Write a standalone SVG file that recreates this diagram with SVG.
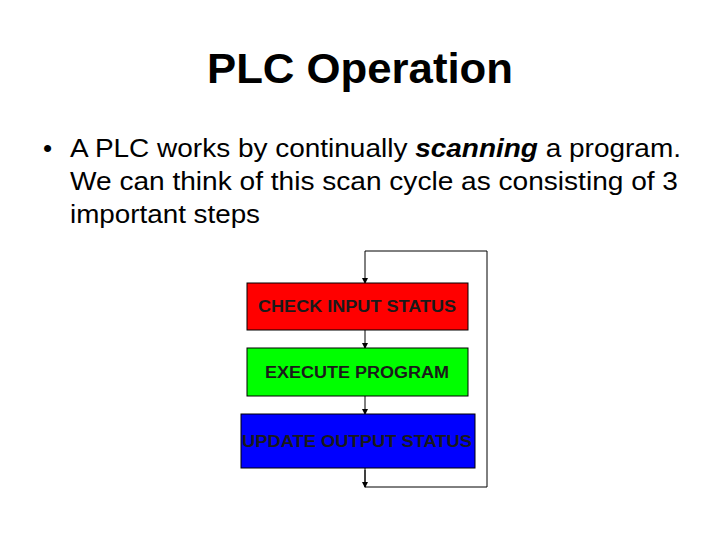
<svg xmlns="http://www.w3.org/2000/svg" width="720" height="540" viewBox="0 0 720 540">
<style>
text{font-family:"Liberation Sans",Arial,sans-serif;fill:#000}
.b{stroke:#000;stroke-width:1}
.l{fill:none;stroke:#000;stroke-width:1}
.n{font-size:16px;font-weight:bold;text-anchor:middle;fill:#1a1a1a}
.t{font-size:26px}
</style>
<defs><marker id="a" markerWidth="6" markerHeight="6" refX="5" refY="3" orient="auto" markerUnits="userSpaceOnUse"><path d="M0,0 L6,3 L0,6 z" fill="#000"/></marker></defs>
<rect width="720" height="540" fill="#fff"/>
<text x="360" y="83" font-size="42" font-weight="bold" text-anchor="middle" textLength="306" lengthAdjust="spacingAndGlyphs">PLC Operation</text>
<text x="43" y="157" class="t">•</text>
<text x="70" y="157" class="t" textLength="611" lengthAdjust="spacingAndGlyphs">A PLC works by continually <tspan font-weight="bold" font-style="italic">scanning</tspan> a program.</text>
<text x="70" y="190" class="t" textLength="608" lengthAdjust="spacingAndGlyphs">We can think of this scan cycle as consisting of 3</text>
<text x="70" y="223" class="t" textLength="190" lengthAdjust="spacingAndGlyphs">important steps</text>
<g id="connectors">
<polyline class="l" points="365,470 365,487 487,487 487,251 365,251 365,283" marker-end="url(#a)"/>
<line class="l" x1="365" y1="330" x2="365" y2="348" marker-end="url(#a)"/>
<line class="l" x1="365" y1="396" x2="365" y2="414" marker-end="url(#a)"/>
<line class="l" x1="365" y1="468" x2="365" y2="487" marker-end="url(#a)"/>
</g>
<g id="check"><rect class="b" x="247" y="283" width="221" height="47" fill="#ff0000"/><text class="n" x="357" y="312" textLength="198" lengthAdjust="spacingAndGlyphs">CHECK INPUT STATUS</text></g>
<g id="execute"><rect class="b" x="247" y="348" width="221" height="48" fill="#00ff00"/><text class="n" x="357" y="378" textLength="184" lengthAdjust="spacingAndGlyphs">EXECUTE PROGRAM</text></g>
<g id="update"><rect class="b" x="241" y="414" width="234" height="54" fill="#0000ff"/><text class="n" x="357" y="447" textLength="230" lengthAdjust="spacingAndGlyphs">UPDATE OUTPUT STATUS</text></g>
</svg>
